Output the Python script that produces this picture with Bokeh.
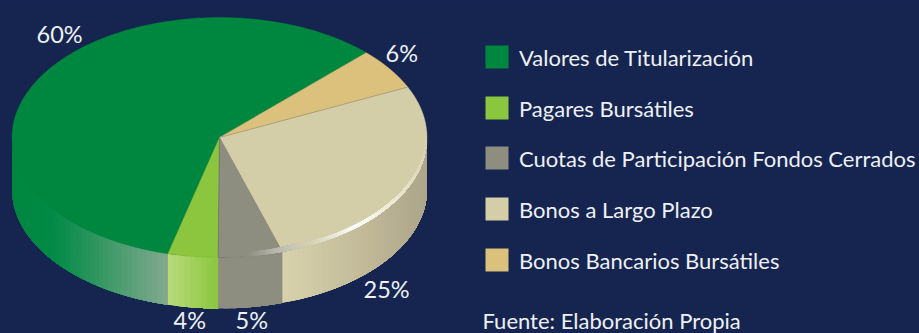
import numpy as np
from bokeh.plotting import figure
from bokeh.models import ColumnDataSource, Range1d
from bokeh.core.properties import value
from bokeh.embed import file_html
from bokeh.resources import INLINE

categories = ["Valores de Titularización", "Pagares Bursátiles",
              "Cuotas de Participación Fondos Cerrados", "Bonos a Largo Plazo",
              "Bonos Bancarios Bursátiles"]
labels = ["60%", "4%", "5%", "25%", "6%"]
# Shares of the ellipse as they appear in the picture
shares = [58.5, 3.9, 5.0, 27.0, 5.6]
colors = ["#00873f", "#8cc63e", "#8d8e80", "#d3cea8", "#dcc17c"]
source_note = "Fuente: Elaboración Propia"

BG = "#152550"
TXT = "#eef0f5"
FONT = "Lato"
W, H = 919, 333
CX, CY, RX, RY = 219.0, 137.0, 207.5, 120.0
BCY, BRY = 189.0, 119.0
START = 45.0

# colour stops along each wall (fraction along the visible wall, left to right)
wall_stops = {
    0: [(0, "#00873f"), (0.25, "#008a45"), (0.45, "#1f9158"), (0.62, "#3f9a68"), (1, "#82a98f")],
    1: [(0, "#b8da7c"), (1, "#8cc63e")],
    2: [(0, "#8d8e80"), (1, "#8d8e80")],
    3: [(0, "#d8d2ac"), (0.5, "#c4bc9a"), (1, "#ada58a")],
}
band_stops = [(0, "#8d8e80"), (0.10, "#b7b8ae"), (0.17, "#c9c8b4"), (0.24, "#d8d3b4"),
              (0.42, "#ffffff"), (0.58, "#eeead6"), (0.8, "#e0dcc0"), (1, "#d3cea8")]


def rgb(h):
    return np.array([int(h[i:i + 2], 16) for i in (1, 3, 5)], float)


def lerp(stops, t):
    xs = [s[0] for s in stops]
    cs = np.array([rgb(s[1]) for s in stops])
    c = [np.interp(t, xs, cs[:, k]) for k in range(3)]
    return "#%02x%02x%02x" % tuple(int(round(v)) for v in c)


def top(a, r=1.0):
    a = np.radians(a)
    return CX + RX * r * np.cos(a), CY - RY * r * np.sin(a)


def bot(a):
    a = np.radians(a)
    return CX + RX * np.cos(a), BCY - BRY * np.sin(a)


edges = START + np.cumsum([0] + shares) * 3.6

p = figure(width=W, height=H, output_backend="svg", toolbar_location=None,
           x_range=Range1d(0, W), y_range=Range1d(H, 0),
           background_fill_color=BG, border_fill_color=BG,
           min_border=0, outline_line_color=None)
p.axis.visible = False
p.grid.visible = False

# walls: each step paints from its start to the end of the slice, so later steps overlap earlier ones
xs, ys, cs = [], [], []
for i in range(4):
    a0 = max(edges[i], 180.0)
    a1 = min(edges[i + 1], 360.0)
    n = max(int((a1 - a0) / 1.5), 1)
    grid = np.linspace(a0, a1, n + 1)
    x0, x1 = top(a0)[0], top(a1)[0]
    for g0, g1 in zip(grid[:-1], grid[1:]):
        arc = np.linspace(g0, a1, 60)
        tx, ty = top(arc)
        bx, by = bot(arc[::-1])
        xs.append(np.r_[tx, bx])
        ys.append(np.r_[ty, by])
        cs.append(lerp(wall_stops[i], (top((g0 + g1) / 2)[0] - x0) / (x1 - x0)))
p.patches(xs="x", ys="y", fill_color="c", line_color=None,
          source=ColumnDataSource(dict(x=xs, y=ys, c=cs)))

# top face slices
for i, c in enumerate(colors):
    a = np.linspace(edges[i], edges[i + 1], 200)
    ex, ey = top(a)
    p.patch(np.r_[CX, ex], np.r_[CY, ey], fill_color=c, line_color=c, line_width=0.4)

# rim highlight on grey and cream slices
a_start = 278.0
a_end = 358.0
grid = np.linspace(a_start, a_end, 120)
hx, hy, hc = [], [], []
for g0, g1 in zip(grid[:-1], grid[1:]):
    t = ((g0 + g1) / 2 - a_start) / (a_end - a_start)
    arc = np.linspace(g0, a_end, 50)
    w = np.interp(arc, [a_start, 290, 305, a_end], [0.965, 0.96, 0.975, 0.995])
    ox, oy = top(arc)
    ix, iy = top(arc, w)
    hx.append(np.r_[ix, ox[::-1]])
    hy.append(np.r_[iy, oy[::-1]])
    hc.append(lerp(band_stops, t))
p.patches(xs="x", ys="y", fill_color="c", line_color=None,
          source=ColumnDataSource(dict(x=hx, y=hy, c=hc)))

# thin dividers
for k, col in ((2, "#6f7064"), (3, "#77786c"), (4, "#9a9682")):
    ex, ey = top(edges[k], 0.96 if k == 3 else 1.0)
    p.line([CX, ex], [CY, ey], line_color=col, line_width=0.6)

# percentage labels
lab_x = [36, 173, 235, 363, 385]
lab_y = [33, 319, 319, 288, 52.5]
p.text(x=lab_x, y=lab_y, text=labels, text_font=value(FONT), text_font_size="23.5px",
       text_color=TXT, text_align="left", text_baseline="alphabetic")

# legend
leg_y = [56.5, 107.5, 157.5, 208.5, 259.5]
leg_base = [56.5, 107.5, 157.5, 208.5, 259.5]
p.rect(x=[496.5] * 5, y=leg_y, width=23, height=23, fill_color=colors, line_color=None)
p.text(x=[518.5] * 5, y=leg_base, text=categories, text_font=value(FONT),
       text_font_size="22px", text_color=TXT, text_align="left", text_baseline="alphabetic")
p.text(x=[482], y=[319.5], text=[source_note], text_font=value(FONT), text_font_size="22px",
       text_color=TXT, text_align="left", text_baseline="alphabetic")

template = """{% block postamble %}<style>html,body{margin:0;padding:0;background:#152550;overflow:hidden}</style>{% endblock %}
"""
open("out.html", "w").write(file_html(p, INLINE, template=template))
